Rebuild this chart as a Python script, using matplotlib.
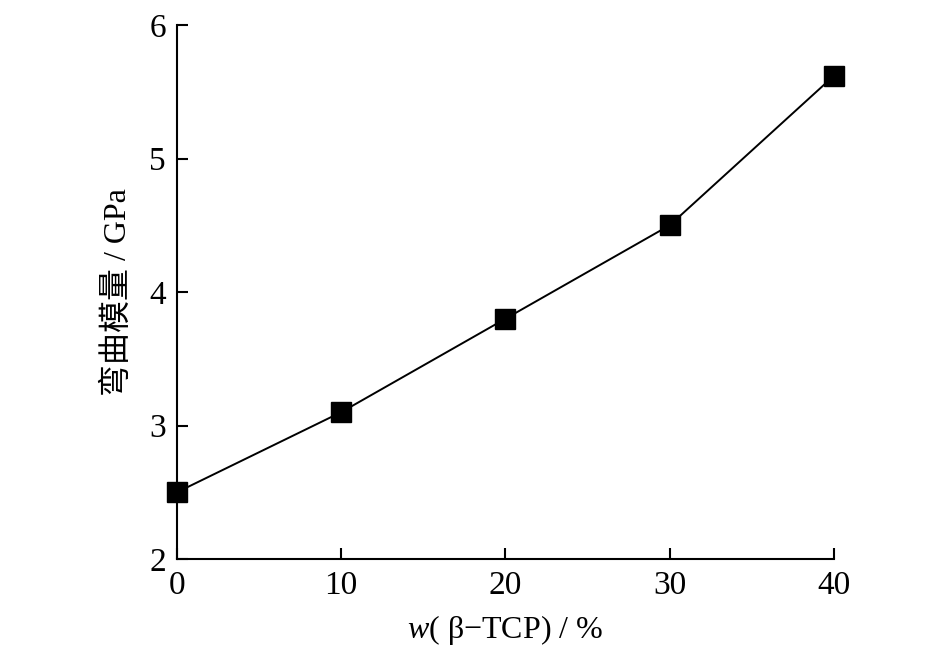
import matplotlib
matplotlib.use("Agg")
import matplotlib.pyplot as plt

tcp_content = [0, 10, 20, 30, 40]
flexural_modulus = [2.5, 3.1, 3.8, 4.5, 5.62]
x_ticks = [0, 10, 20, 30, 40]
y_ticks = [2, 3, 4, 5, 6]

plt.rcParams['font.family'] = ['Liberation Serif', 'Noto Sans CJK SC', 'DejaVu Sans']
plt.rcParams['mathtext.fontset'] = 'custom'
plt.rcParams['mathtext.it'] = 'Liberation Serif:italic'
plt.rcParams['mathtext.rm'] = 'Liberation Serif'

fig = plt.figure(figsize=(9.45, 6.5), dpi=100)
ax = fig.add_axes([0.1873, 0.14, 0.6952, 0.8215])

ax.plot(tcp_content, flexural_modulus, color='black', linewidth=1.4,
        marker='s', markersize=14, markerfacecolor='black', markeredgecolor='black',
        clip_on=False, zorder=3)

ax.set_xlim(0, 40)
ax.set_ylim(2, 6)
ax.set_xticks(x_ticks)
ax.set_yticks(y_ticks)
ax.tick_params(direction='in', length=8, width=1.5, labelsize=24, pad=8)
for s in ['top', 'right']:
    ax.spines[s].set_visible(False)
for s in ['left', 'bottom']:
    ax.spines[s].set_linewidth(1.5)

ax.set_xlabel(r'$w$( β−TCP) / %', fontsize=23, labelpad=9)
ax.set_ylabel('弯曲模量 / GPa', fontsize=23, labelpad=12)

fig.savefig('out.png', dpi=100)
